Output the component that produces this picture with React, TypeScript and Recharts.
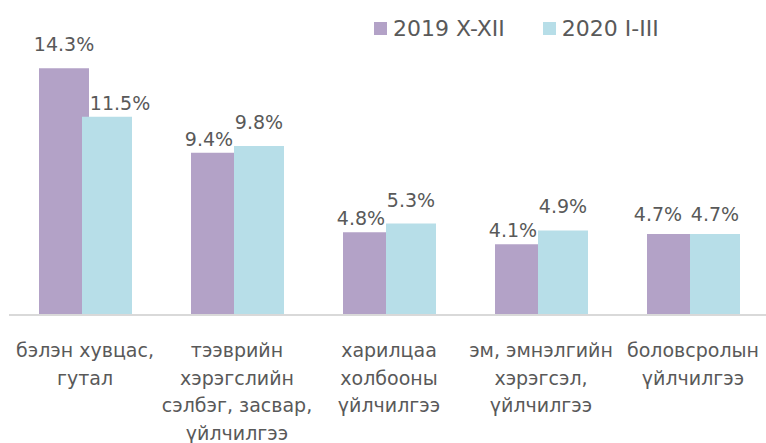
import React from 'react';
import { BarChart, Bar, XAxis, YAxis, LabelList } from 'recharts';

document.body.style.margin = '0';

const categories = [
  'бэлэн хувцас,\nгутал',
  'тээврийн\nхэрэгслийн\nсэлбэг, засвар,\nүйлчилгээ',
  'харилцаа\nхолбооны\nүйлчилгээ',
  'эм, эмнэлгийн\nхэрэгсэл,\nүйлчилгээ',
  'боловсролын\nүйлчилгээ',
];
const series2019 = [14.3, 9.4, 4.8, 4.1, 4.7];
const series2020 = [11.5, 9.8, 5.3, 4.9, 4.7];
const seriesNames = ['2019 X-XII', '2020 I-III'];

const data = categories.map((c, i) => ({ name: c, a: series2019[i], b: series2020[i] }));

const FONT = '"DejaVu Sans", Verdana, sans-serif';
const TEXT = '#595959';
const PURPLE = '#b3a2c7';
const BLUE = '#b7dee8';

// Excel nudges labels apart when the two bars of a group are close in height
const makeLabel = (which: 'a' | 'b') => (props: any) => {
  const { x, y, width, index, value } = props;
  const own = which === 'a' ? series2019[index] : series2020[index];
  const other = which === 'a' ? series2020[index] : series2019[index];
  let gap = 17;
  let dx = 0;
  if (own < other) {
    gap = 7;
    dx = which === 'a' ? -7 : 13;
  } else if (own === other) {
    gap = 13;
    dx = which === 'a' ? -14 : 0;
  }
  return (
    <text
      x={Number(x) + Number(width) / 2 + dx}
      y={Number(y) - gap}
      textAnchor="middle"
      fill={TEXT}
      fontSize={19}
      fontFamily={FONT}
    >
      {Number(value).toFixed(1)}%
    </text>
  );
};

const CategoryTick = (props: any) => {
  const { x, y, payload } = props;
  const lines = String(payload.value).split('\n');
  return (
    <g>
      {lines.map((l, i) => (
        <text
          key={i}
          x={x}
          y={y + 40 + i * 27.5}
          textAnchor="middle"
          fill={TEXT}
          fontSize={19}
          fontFamily={FONT}
        >
          {l}
        </text>
      ))}
    </g>
  );
};

export default function App() {
  return (
    <div style={{ position: 'relative', width: 766, height: 443, background: '#fff', overflow: 'hidden' }}>
      <BarChart
        width={766}
        height={443}
        data={data}
        margin={{ top: 39, right: -3, left: 9, bottom: 0 }}
        barSize={50}
        barGap={-7}
      >
        <XAxis
          dataKey="name"
          interval={0}
          height={128}
          tickLine={false}
          tickSize={0}
          axisLine={{ stroke: '#d9d9d9', strokeWidth: 2 }}
          tick={<CategoryTick />}
        />
        <YAxis hide domain={[0, 16]} />
        <Bar dataKey="a" name={seriesNames[0]} fill={PURPLE} isAnimationActive={false}>
          <LabelList dataKey="a" content={makeLabel('a')} />
        </Bar>
        <Bar dataKey="b" name={seriesNames[1]} fill={BLUE} isAnimationActive={false}>
          <LabelList dataKey="b" content={makeLabel('b')} />
        </Bar>
      </BarChart>
      <div
        style={{
          position: 'absolute',
          top: 0,
          left: 374,
          height: 56,
          display: 'flex',
          alignItems: 'center',
          fontFamily: FONT,
          fontSize: 22,
          color: TEXT,
        }}
      >
        {seriesNames.map((n, i) => (
          <div key={n} style={{ display: 'flex', alignItems: 'center', marginRight: i === 0 ? 38 : 0 }}>
            <span style={{ width: 13, height: 13, background: i === 0 ? PURPLE : BLUE, marginRight: 6 }} />
            <span>{n}</span>
          </div>
        ))}
      </div>
    </div>
  );
}
